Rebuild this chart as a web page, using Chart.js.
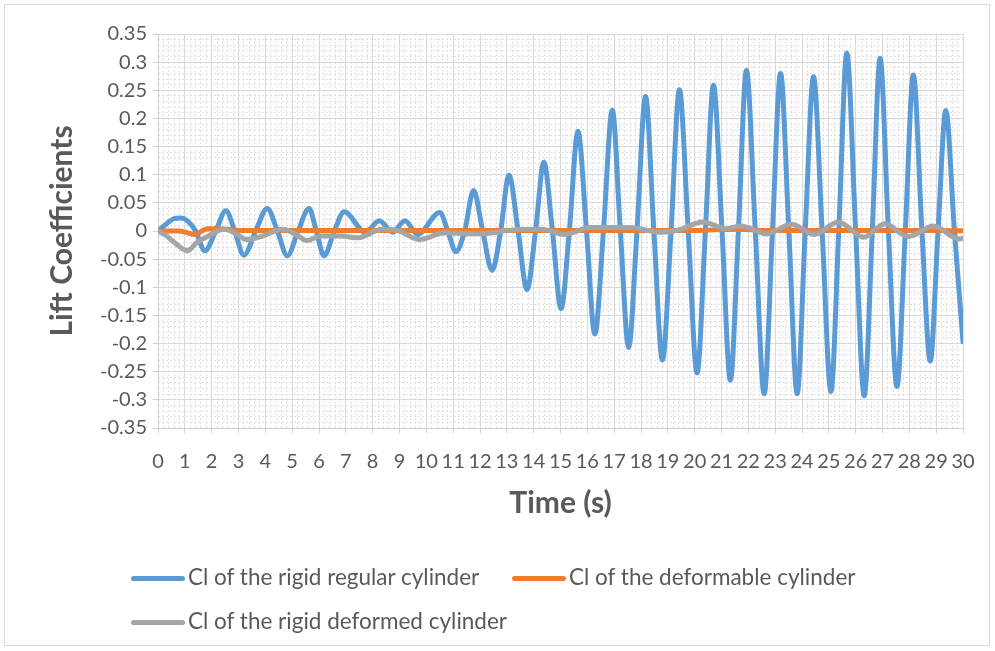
<!DOCTYPE html>
<html>
<head>
<meta charset="utf-8">
<script src="https://cdn.jsdelivr.net/npm/chart.js@4.4.1/dist/chart.umd.min.js"></script>
<style>
  html, body { margin: 0; padding: 0; background: #ffffff; }
  #wrap { position: relative; width: 995px; height: 651px; overflow: hidden; }
  #frame { position: absolute; left: 4px; top: 4px; width: 986px; height: 642px; border: 1px solid #d9d9d9; box-sizing: border-box; pointer-events: none; }
  canvas { position: absolute; left: 0; top: 0; }
  .leg { position: absolute; font-family: Lato, "Liberation Sans", sans-serif; font-size: 22.5px; color: #595959; white-space: nowrap; line-height: 26px; }
  .leg .ln { display: inline-block; width: 54px; height: 5px; border-radius: 3px; vertical-align: middle; margin-right: 3px; position: relative; top: -1px; }
</style>
</head>
<body>
<div id="wrap">
  <canvas id="c" width="995" height="651"></canvas>
  <div id="frame"></div>
  <div class="leg" id="leg1" style="left:131px; top:564px;"><span class="ln" style="background:#5B9BD5"></span>Cl of the rigid regular cylinder</div>
  <div class="leg" id="leg2" style="left:512px; top:564px;"><span class="ln" style="background:#ED7D31"></span>Cl of the deformable cylinder</div>
  <div class="leg" id="leg3" style="left:131px; top:608px;"><span class="ln" style="background:#A5A5A5"></span>Cl of the rigid deformed cylinder</div>
</div>
<script>
// ---- Data ----
const seriesNames = [
  "Cl of the rigid regular cylinder",
  "Cl of the deformable cylinder",
  "Cl of the rigid deformed cylinder"
];

// Rigid regular cylinder (blue)
const tRigidRegular = [
  0, 0.3, 0.6, 0.85, 1.1, 1.4, 1.75, 2.15, 2.53, 2.86, 3.2, 3.64, 4.07, 4.45, 4.82, 5.22, 5.63, 5.9, 6.19, 6.57,
  6.94, 7.72, 8.25, 8.75, 9.2, 9.68, 10.5, 10.8, 11.1, 11.43, 11.76, 12.1, 12.45, 12.77, 13.08, 13.42, 13.75,
  14.07, 14.38, 14.7, 15.02, 15.33, 15.65, 15.97, 16.28, 16.6, 16.93, 17.23, 17.54, 17.85, 18.17, 18.48, 18.8,
  19.12, 19.43, 19.76, 20.09, 20.4, 20.7, 21.02, 21.33, 21.63, 21.93, 22.26, 22.59, 22.9, 23.2, 23.51, 23.82,
  24.12, 24.43, 24.75, 25.08, 25.37, 25.67, 26.0, 26.32, 26.62, 26.91, 27.22, 27.54, 27.85, 28.15, 28.47, 28.78,
  29.07, 29.36, 29.68, 30
];
const clRigidRegular = [
  0, 0.012, 0.022, 0.023, 0.018, 0, -0.035, 0, 0.036, 0, -0.043, 0, 0.040, 0, -0.044, 0, 0.040, 0, -0.044, 0,
  0.034, -0.002, 0.018, -0.002, 0.018, -0.006, 0.033, 0, -0.037, 0, 0.072, 0, -0.070, 0, 0.099, 0, -0.104,
  0, 0.122, 0, -0.138, 0, 0.177, 0, -0.183, 0, 0.215, 0, -0.207, 0, 0.239, 0, -0.229,
  0, 0.251, 0, -0.252, 0, 0.259, 0, -0.265, 0, 0.285, 0, -0.289, 0, 0.280, 0, -0.289,
  0, 0.274, 0, -0.285, 0, 0.316, 0, -0.293, 0, 0.307, 0, -0.276, 0, 0.277, 0, -0.231,
  0, 0.214, 0, -0.197
];

// Deformable cylinder (orange)
const tDeformable = [0, 0.8, 1.35, 1.85, 2.3, 3.0, 8, 14, 20, 21.6, 22.6, 26, 30];
const clDeformable = [0, 0, -0.006, 0.004, 0.004, 0.001, 0.001, 0.001, 0.001, 0.003, 0.001, 0.001, 0.0005];

// Rigid deformed cylinder (grey)
const tRigidDeformed = [
  0, 0.3, 0.6, 1.09, 1.46, 1.84, 2.46, 2.84, 3.3, 3.83, 4.65, 5.1, 5.55, 6.07, 6.82, 7.45, 8.35, 8.93, 9.74,
  10.7, 11.67, 12.1, 13.0, 14.28, 15.17, 16.1, 17.6, 18.7, 19.33, 20.32, 21.15, 21.7, 22.7, 23.6, 24.45, 25.35,
  26.3, 27.09, 27.95, 28.9, 29.85, 30
];
const clRigidDeformed = [
  0, -0.008, -0.02, -0.035, -0.02, -0.01, 0.003, -0.003, -0.015, -0.01, 0.003, -0.005, -0.017, -0.009, -0.009, -0.012, 0.003, 0.001, -0.015,
  -0.003, -0.005, -0.005, 0.001, 0.003, -0.006, 0.006, 0.006, -0.002, 0.001, 0.016, 0.004, 0.009, -0.005, 0.012, -0.006, 0.016,
  -0.011, 0.013, -0.010, 0.009, -0.014, -0.013
];

const seriesColors = ["#5B9BD5", "#ED7D31", "#A5A5A5"];

const xTitle = "Time (s)";
const yTitle = "Lift Coefficients";
const xMin = 0, xMax = 30, xStep = 1;
const yMin = -0.35, yMax = 0.35, yStep = 0.05;

// ---- Build chart ----
const toPts = (ts, vs) => ts.map((t, i) => ({ x: t, y: vs[i] }));
const FONT = "Lato, 'Liberation Sans', sans-serif";
const TXT = "#595959";

const isMajor = (v, step) => Math.abs(v / step - Math.round(v / step)) < 1e-6;

new Chart(document.getElementById("c"), {
  type: "line",
  data: {
    datasets: [
      { label: seriesNames[0], data: toPts(tRigidRegular, clRigidRegular), borderColor: seriesColors[0], order: 3 },
      { label: seriesNames[1], data: toPts(tDeformable, clDeformable), borderColor: seriesColors[1], order: 2 },
      { label: seriesNames[2], data: toPts(tRigidDeformed, clRigidDeformed), borderColor: seriesColors[2], order: 1 }
    ]
  },
  options: {
    responsive: false,
    animation: false,
    devicePixelRatio: 1,
    datasets: {
      line: {
        borderWidth: 5,
        pointRadius: 0,
        cubicInterpolationMode: "monotone",
        fill: false,
        borderCapStyle: "round",
        borderJoinStyle: "round"
      }
    },
    layout: { padding: { left: 0, right: 32, top: 34, bottom: 128 } },
    plugins: { legend: { display: false }, tooltip: { enabled: false } },
    scales: {
      x: {
        type: "linear", position: "bottom", min: xMin, max: xMax,
        afterFit: (s) => { s.height = 95; },
        ticks: {
          stepSize: xStep, autoSkip: false, maxRotation: 0, maxTicksLimit: 100,
          padding: 17, color: TXT, font: { family: FONT, size: 20 },
          callback: (v) => String(v)
        },
        grid: { color: "#d9d9d9", lineWidth: 1, tickLength: 5, tickColor: "#d0d0d0" },
        border: { color: "#cfcfcf", width: 1 },
        title: { display: true, text: xTitle, color: TXT, font: { family: FONT, size: 30, weight: "bold" }, padding: { top: 0, bottom: 2 } }
      },
      xMinor: {
        type: "linear", position: "bottom", min: xMin, max: xMax,
        afterFit: (s) => { s.height = 0; },
        ticks: { display: false, stepSize: 0.2, maxTicksLimit: 1000 },
        grid: {
          drawTicks: false, lineWidth: 1,
          color: (ctx) => (ctx.tick && isMajor(ctx.tick.value, 1)) ? "rgba(0,0,0,0)" : "#e0e0e0"
        },
        border: { display: false, dash: [2, 2] }
      },
      y: {
        type: "linear", position: "left", min: yMin, max: yMax,
        afterFit: (s) => { s.width = 158; },
        ticks: {
          stepSize: yStep, maxTicksLimit: 100, padding: 6, color: TXT, font: { family: FONT, size: 20 },
          callback: (v) => String(Number(v.toFixed(2)))
        },
        grid: { color: "#d9d9d9", lineWidth: 1, tickLength: 5, tickColor: "#d0d0d0" },
        border: { color: "#cfcfcf", width: 1 },
        title: { display: true, text: yTitle, color: TXT, font: { family: FONT, size: 30, weight: "bold" }, padding: { top: 44, bottom: 0 } }
      },
      yMinor: {
        type: "linear", position: "left", min: yMin, max: yMax,
        afterFit: (s) => { s.width = 0; },
        ticks: { display: false, stepSize: 0.01, maxTicksLimit: 1000 },
        grid: {
          drawTicks: false, lineWidth: 1,
          color: (ctx) => (ctx.tick && isMajor(ctx.tick.value, 0.05)) ? "rgba(0,0,0,0)" : "#e0e0e0"
        },
        border: { display: false, dash: [2, 2] }
      }
    }
  }
});
</script>
</body>
</html>
